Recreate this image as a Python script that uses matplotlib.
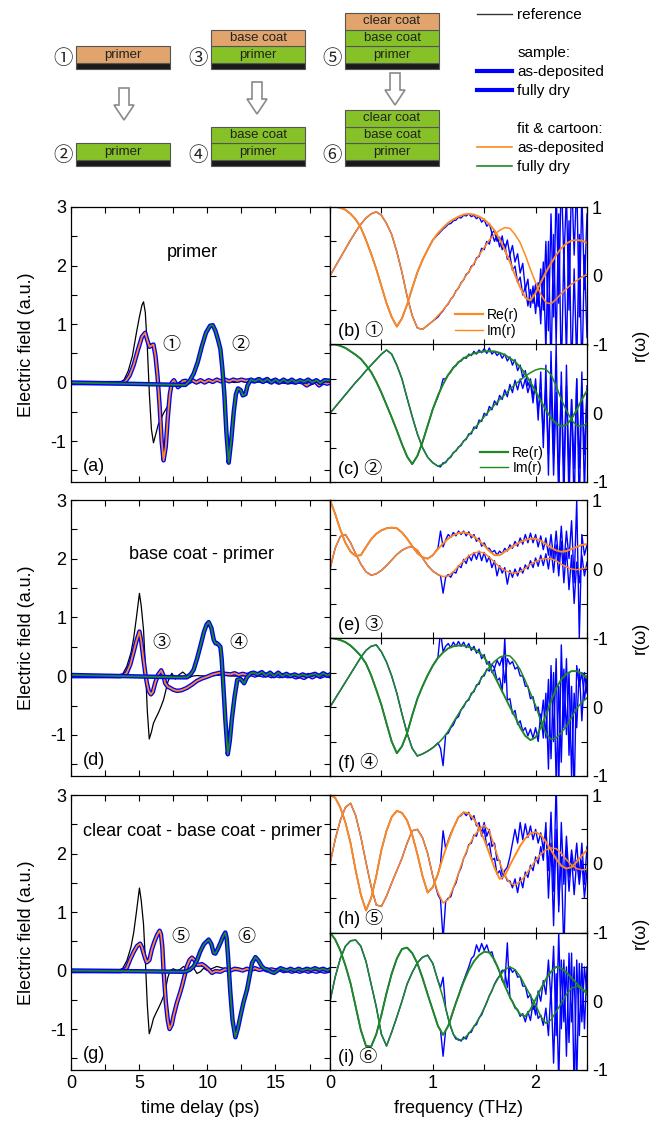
import numpy as np
import matplotlib
matplotlib.use("Agg")
import matplotlib.pyplot as plt
from matplotlib.lines import Line2D
from matplotlib.patches import Rectangle, Polygon
from matplotlib.ticker import MultipleLocator

plt.rcParams["font.family"] = ["Liberation Sans", "Noto Sans CJK JP", "DejaVu Sans"]
plt.rcParams["axes.unicode_minus"] = False
plt.rcParams["axes.linewidth"] = 0.9

W, H = 657, 1121
BLUE = "#0000ff"
ORANGE = "#ff8a1c"
GREEN = "#1f8a1f"
LAYER_ORANGE = "#e0a46c"
LAYER_GREEN = "#86c227"

# ---- cartoon ----
STACK_NAMES = [["primer"], ["base coat", "primer"], ["clear coat", "base coat", "primer"]]
STACK_WET = [[LAYER_ORANGE], [LAYER_ORANGE, LAYER_GREEN], [LAYER_ORANGE, LAYER_GREEN, LAYER_GREEN]]
CIRCLED = ["①", "②", "③", "④", "⑤", "⑥"]

# ---- time domain (ps, a.u.) ----
T_REF_A = [0, 3.6, 3.9, 4.2, 4.5, 4.8, 5.0, 5.2, 5.32, 5.45, 5.6, 5.75, 5.9, 6.05, 6.2,
           6.4, 6.6, 6.8, 7.0, 7.15, 7.3, 7.45, 7.6, 7.8, 8.0, 8.4, 8.8, 9.2, 9.6, 10.0,
           10.5, 11.0, 11.5, 12.0, 12.5, 13.0, 14.0, 15.0, 16.0, 17.0, 17.5, 18.0, 19.0]
E_REF_A = [0, 0, 0.05, 0.2, 0.45, 0.85, 1.1, 1.32, 1.38, 1.2, 0.6, -0.2, -0.8, -1.03, -0.9,
           -0.72, -0.62, -0.52, -0.44, -0.38, -0.2, 0.0, 0.04, -0.03, 0.02, 0.0, 0.02, -0.02, 0.01, 0.0,
           0.03, 0.05, 0.02, 0.0, 0.02, 0.0, 0.01, 0.0, -0.02, 0.0, -0.05, 0.0, 0.0]
T_WET_A = [0, 3.7, 4.0, 4.3, 4.6, 4.9, 5.2, 5.44, 5.6, 5.76, 5.9, 6.05, 6.2, 6.35, 6.5,
           6.65, 6.79, 6.95, 7.1, 7.25, 7.4, 7.55, 7.7, 7.85, 8.0, 8.2, 8.4, 8.6, 8.9, 9.2,
           9.5, 9.8, 10.1, 10.4, 10.7, 11.0, 11.3, 11.6, 11.9, 12.2, 12.5, 12.8, 13.1, 13.4, 13.7,
           14.0, 14.3, 14.6, 14.9, 15.2, 15.5, 15.8, 16.1, 16.4, 16.7, 17.0, 17.3, 17.6, 17.9, 18.2,
           18.5, 18.8, 19.0]
E_WET_A = [-0.01, -0.01, 0.02, 0.12, 0.3, 0.55, 0.78, 0.85, 0.72, 0.61, 0.63, 0.65, 0.45, 0.1, -0.4,
           -1.0, -1.33, -1.1, -0.6, -0.2, 0.0, 0.04, -0.02, -0.08, -0.05, 0.02, 0.03, 0.0, 0.04, 0.0,
           0.04, 0.0, 0.04, 0.01, 0.05, 0.02, 0.05, 0.02, 0.05, 0.03, 0.05, 0.03, 0.04, 0.02, 0.05,
           0.02, 0.05, 0.01, 0.04, 0.0, 0.03, 0.01, 0.03, 0.0, 0.02, 0.0, -0.05, 0.0, 0.02, -0.05,
           0.0, -0.02, 0.0]
T_DRY_A = [0, 4.0, 8.0, 8.4, 8.7, 9.0, 9.3, 9.6, 9.9, 10.2, 10.4, 10.6, 10.8, 10.96, 11.1,
           11.25, 11.4, 11.57, 11.75, 11.94, 12.1, 12.25, 12.45, 12.6, 12.8, 12.95, 13.2, 13.5, 13.8, 14.1,
           14.4, 14.7, 15.0, 15.3, 15.6, 15.9, 16.2, 16.5, 16.8, 17.1, 17.4, 17.7, 18.0, 18.3, 18.6, 19.0]
E_DRY_A = [0.0, -0.02, -0.04, -0.04, 0.03, 0.15, 0.35, 0.62, 0.85, 0.97, 0.98, 0.88, 0.72, 0.57, 0.25,
           -0.2, -0.85, -1.37, -1.0, -0.5, -0.2, -0.1, -0.13, -0.22, -0.2, -0.05, 0.05, 0.02, 0.06, 0.01,
           0.06, 0.0, 0.05, 0.0, 0.05, 0.0, 0.05, 0.0, 0.04, 0.01, 0.05, 0.0, 0.04, -0.01, 0.04, 0.03]

T_REF_D = [0, 3.5, 3.8, 4.1, 4.4, 4.6, 4.8, 5.02, 5.15, 5.32, 5.45, 5.6, 5.74, 5.9, 6.05,
           6.25, 6.42, 6.6, 6.79, 6.95, 7.1, 7.28, 7.4, 7.65, 7.9, 8.2, 8.45, 8.63, 8.9, 9.2,
           10.0, 11.0, 12.0, 13.0, 14.0, 15.0, 16.0, 17.0, 18.0, 19.0]
E_REF_D = [0, 0, 0.04, 0.17, 0.4, 0.65, 1.0, 1.41, 1.2, 0.79, 0.2, -0.6, -1.07, -0.95, -0.8,
           -0.7, -0.62, -0.52, -0.4, -0.25, -0.1, 0.0, 0.05, -0.05, 0.02, 0.07, 0.02, -0.03, 0.0, 0.01,
           0.0, 0.02, 0.0, 0.01, 0.0, 0.01, 0.0, 0.0, 0.0, 0.0]
T_WET_D = [0, 3.6, 3.9, 4.1, 4.35, 4.58, 4.8, 5.02, 5.15, 5.32, 5.45, 5.56, 5.7, 5.86, 6.0,
           6.18, 6.4, 6.62, 6.8, 6.91, 7.1, 7.28, 7.5, 7.77, 8.1, 8.5, 8.9, 9.24, 9.6, 9.98,
           10.4, 10.96, 11.3, 11.7, 12.0, 12.3, 12.6, 12.9, 13.2, 13.5, 13.8, 14.1, 14.4, 14.7, 15.0,
           15.3, 15.6, 15.9, 16.2, 16.5, 16.8, 17.1, 17.4, 17.7, 18.0, 18.3, 18.6, 19.0]
E_WET_D = [0.0, 0.0, 0.02, 0.06, 0.2, 0.4, 0.6, 0.76, 0.6, 0.28, 0.05, -0.11, -0.25, -0.31, -0.27,
           -0.11, 0.03, 0.1, 0.0, -0.12, -0.18, -0.2, -0.23, -0.25, -0.24, -0.2, -0.14, -0.08, -0.04, -0.01,
           0.03, 0.06, 0.04, 0.03, 0.05, 0.02, 0.04, 0.02, 0.04, 0.01, 0.04, 0.01, 0.03, 0.0, 0.02,
           0.0, 0.02, 0.0, 0.01, -0.02, 0.0, -0.03, 0.02, -0.02, 0.02, -0.01, 0.02, 0.0]
T_DRY_D = [0, 4.0, 8.0, 8.5, 8.8, 9.0, 9.25, 9.49, 9.75, 9.95, 10.1, 10.3, 10.47, 10.6, 10.71,
           10.85, 10.96, 11.05, 11.15, 11.32, 11.5, 11.65, 11.8, 12.0, 12.2, 12.45, 12.7, 12.9, 13.2, 13.4,
           13.7, 14.0, 14.3, 14.6, 14.9, 15.2, 15.5, 15.8, 16.1, 16.4, 16.7, 17.0, 17.3, 17.6, 17.9,
           18.2, 18.5, 18.8, 19.0]
E_DRY_D = [0.02, 0.0, -0.02, -0.02, 0.04, 0.11, 0.3, 0.51, 0.75, 0.88, 0.92, 0.82, 0.62, 0.56, 0.56,
           0.53, 0.5, 0.3, -0.06, -0.73, -1.33, -1.1, -0.73, -0.35, -0.06, -0.05, -0.12, -0.02, 0.05, 0.06,
           0.03, 0.07, 0.01, 0.06, 0.0, 0.06, 0.0, 0.04, 0.0, 0.03, 0.0, 0.03, 0.0, 0.02, 0.04,
           0.0, 0.05, 0.01, 0.03]

T_REF_G = [0, 3.5, 3.8, 4.1, 4.4, 4.6, 4.8, 5.02, 5.15, 5.32, 5.45, 5.6, 5.74, 5.9, 6.05,
           6.25, 6.42, 6.6, 6.79, 6.95, 7.1, 7.28, 7.5, 7.8, 8.0, 8.26, 8.5, 8.75, 9.0, 9.24,
           9.5, 9.73, 10.0, 10.3, 10.7, 11.0, 11.5, 12.0, 13.0, 14.0, 15.0, 16.0, 17.0, 18.0, 19.0]
E_REF_G = [0, 0, 0.04, 0.17, 0.4, 0.65, 1.0, 1.41, 1.2, 0.79, 0.2, -0.6, -1.08, -0.96, -0.82,
           -0.72, -0.64, -0.55, -0.44, -0.3, -0.12, 0.0, 0.03, 0.0, 0.02, 0.07, 0.03, 0.0, 0.04, -0.05,
           -0.02, 0.04, 0.0, 0.03, 0.07, 0.05, 0.02, 0.0, 0.01, 0.0, 0.02, 0.0, 0.01, 0.0, 0.0]
T_WET_G = [0, 3.6, 3.9, 4.1, 4.34, 4.6, 4.85, 5.07, 5.2, 5.32, 5.45, 5.56, 5.75, 5.93, 6.1,
           6.3, 6.5, 6.6, 6.7, 6.79, 6.88, 6.96, 7.1, 7.23, 7.4, 7.52, 7.65, 7.77, 7.95, 8.14,
           8.3, 8.5, 8.7, 8.87, 9.05, 9.24, 9.45, 9.6, 9.8, 10.1, 10.34, 10.6, 10.96, 11.3, 11.7,
           12.0, 12.3, 12.6, 12.9, 13.2, 13.5, 13.8, 14.1, 14.4, 14.7, 15.0, 15.3, 15.6, 15.9, 16.2,
           16.5, 16.8, 17.1, 17.4, 17.7, 18.0, 18.3, 18.6, 19.0]
E_WET_G = [-0.01, -0.01, 0.0, 0.05, 0.19, 0.32, 0.42, 0.46, 0.4, 0.3, 0.2, 0.14, 0.18, 0.36, 0.48,
           0.6, 0.68, 0.62, 0.4, 0.0, -0.3, -0.55, -0.85, -1.0, -0.92, -0.78, -0.66, -0.55, -0.42, -0.27,
           -0.12, 0.07, 0.18, 0.22, 0.18, 0.1, 0.1, 0.11, 0.08, 0.02, -0.04, -0.01, -0.02, 0.02, 0.0,
           0.03, 0.02, 0.0, 0.03, 0.01, 0.04, 0.01, 0.03, 0.0, 0.02, 0.0, 0.02, -0.01, 0.01, -0.02,
           0.0, -0.02, 0.01, -0.02, 0.0, -0.02, 0.0, -0.02, 0.0]
T_DRY_G = [0, 4.0, 8.0, 8.38, 8.7, 9.0, 9.25, 9.49, 9.75, 10.1, 10.3, 10.47, 10.59, 10.75, 10.96,
           11.15, 11.32, 11.42, 11.52, 11.6, 11.69, 11.85, 12.06, 12.25, 12.43, 12.65, 12.92, 13.1, 13.28, 13.53,
           13.75, 14.0, 14.2, 14.4, 14.65, 14.9, 15.15, 15.37, 15.6, 15.86, 16.1, 16.4, 16.7, 17.0, 17.3,
           17.6, 17.9, 18.2, 18.5, 18.8, 19.0]
E_DRY_G = [0.0, -0.01, -0.02, -0.02, 0.01, 0.07, 0.18, 0.33, 0.45, 0.53, 0.45, 0.3, 0.29, 0.36, 0.47,
           0.58, 0.65, 0.55, 0.24, -0.05, -0.38, -0.85, -1.14, -0.98, -0.78, -0.55, -0.32, -0.1, 0.13, 0.23,
           0.17, 0.07, 0.03, 0.02, -0.02, -0.04, 0.0, 0.04, 0.02, 0.0, 0.03, 0.0, 0.03, 0.0, 0.03,
           0.01, 0.04, 0.01, 0.03, 0.0, 0.02]

# ---- frequency domain: fits on 0.05 THz grid, measured (noisy part) on 0.025 THz grid ----
F_FIT = np.round(np.arange(0, 2.5001, 0.05), 3)
F_MEAS = np.round(np.arange(1.05, 2.5001, 0.025), 3)

B_RE = [1.0, 1.0, 0.99, 0.96, 0.9, 0.82, 0.7, 0.52, 0.32, 0.1,
        -0.15, -0.4, -0.6, -0.74, -0.62, -0.42, -0.18, 0.05, 0.23, 0.38,
        0.52, 0.62, 0.7, 0.77, 0.82, 0.86, 0.89, 0.9, 0.89, 0.86,
        0.82, 0.75, 0.66, 0.53, 0.38, 0.2, 0.01, -0.17, -0.32, -0.36,
        -0.25, -0.1, 0.05, 0.18, 0.3, 0.4, 0.47, 0.51, 0.52, 0.51, 0.48]
B_IM = [0.0, 0.13, 0.26, 0.39, 0.52, 0.64, 0.75, 0.84, 0.9, 0.93,
        0.88, 0.76, 0.6, 0.35, 0.05, -0.3, -0.58, -0.76, -0.78, -0.72,
        -0.66, -0.58, -0.5, -0.4, -0.29, -0.17, -0.05, 0.06, 0.18, 0.3,
        0.41, 0.52, 0.6, 0.66, 0.7, 0.69, 0.6, 0.48, 0.3, 0.09,
        -0.1, -0.27, -0.39, -0.41, -0.34, -0.26, -0.19, -0.12, -0.07, -0.02, 0.02]
C_RE = [1.0, 1.0, 0.98, 0.95, 0.9, 0.85, 0.79, 0.7, 0.6, 0.46,
        0.3, 0.12, -0.06, -0.25, -0.45, -0.63, -0.74, -0.62, -0.42, -0.18,
        0.06, 0.26, 0.42, 0.56, 0.66, 0.74, 0.8, 0.84, 0.87, 0.89,
        0.9, 0.9, 0.9, 0.88, 0.85, 0.8, 0.75, 0.67, 0.57, 0.45,
        0.32, 0.18, 0.05, -0.07, -0.15, -0.19, -0.17, -0.08, 0.05, 0.2, 0.33]
C_IM = [0.0, 0.09, 0.18, 0.27, 0.36, 0.45, 0.53, 0.62, 0.7, 0.78,
        0.86, 0.92, 0.86, 0.7, 0.5, 0.22, -0.05, -0.3, -0.5, -0.64,
        -0.72, -0.77, -0.74, -0.67, -0.58, -0.5, -0.41, -0.32, -0.23, -0.14,
        -0.05, 0.04, 0.12, 0.2, 0.27, 0.35, 0.42, 0.48, 0.54, 0.59,
        0.63, 0.65, 0.64, 0.56, 0.4, 0.2, 0.04, -0.1, -0.18, -0.19, -0.15]
E_RE = [1.0, 0.8, 0.57, 0.38, 0.25, 0.19, 0.2, 0.32, 0.43, 0.51,
        0.56, 0.59, 0.6, 0.59, 0.53, 0.44, 0.33, 0.23, 0.17, 0.15,
        0.2, 0.29, 0.37, 0.44, 0.49, 0.52, 0.53, 0.51, 0.47, 0.41,
        0.34, 0.26, 0.2, 0.2, 0.25, 0.3, 0.35, 0.39, 0.42, 0.44,
        0.44, 0.41, 0.36, 0.31, 0.27, 0.25, 0.26, 0.29, 0.32, 0.35, 0.36]
E_IM = [0.0, 0.3, 0.47, 0.5, 0.38, 0.22, 0.07, -0.04, -0.09, -0.07,
        -0.02, 0.05, 0.13, 0.21, 0.27, 0.31, 0.32, 0.27, 0.16, 0.05,
        -0.03, -0.08, -0.11, -0.1, -0.04, 0.04, 0.12, 0.19, 0.23, 0.25,
        0.23, 0.17, 0.1, 0.03, -0.02, -0.05, -0.06, -0.04, 0.01, 0.07,
        0.11, 0.14, 0.15, 0.15, 0.12, 0.07, 0.03, 0.0, -0.01, 0.0, 0.02]
F_RE = [1.0, 0.99, 0.97, 0.94, 0.89, 0.82, 0.74, 0.63, 0.46, 0.25,
        0.03, -0.24, -0.5, -0.67, -0.57, -0.38, -0.12, 0.12, 0.3, 0.46,
        0.6, 0.71, 0.79, 0.85, 0.88, 0.89, 0.89, 0.87, 0.84, 0.79,
        0.72, 0.6, 0.45, 0.3, 0.15, 0.0, -0.14, -0.3, -0.42, -0.48,
        -0.44, -0.3, -0.12, 0.08, 0.27, 0.4, 0.48, 0.52, 0.52, 0.48, 0.42]
F_IM = [0.0, 0.12, 0.24, 0.36, 0.48, 0.6, 0.72, 0.82, 0.88, 0.9,
        0.8, 0.65, 0.45, 0.2, -0.1, -0.38, -0.6, -0.71, -0.68, -0.64,
        -0.59, -0.53, -0.45, -0.35, -0.22, -0.1, 0.02, 0.12, 0.24, 0.36,
        0.48, 0.58, 0.66, 0.72, 0.75, 0.74, 0.66, 0.54, 0.38, 0.2,
        0.02, -0.2, -0.38, -0.47, -0.45, -0.37, -0.28, -0.15, -0.02, 0.07, 0.13]
H_RE = [1.0, 0.96, 0.82, 0.6, 0.3, -0.1, -0.45, -0.68, -0.5, -0.18,
        0.2, 0.48, 0.68, 0.77, 0.74, 0.63, 0.42, 0.14, -0.18, -0.42,
        -0.34, -0.15, 0.1, 0.32, 0.52, 0.68, 0.75, 0.73, 0.65, 0.52,
        0.35, 0.15, -0.06, -0.22, -0.18, -0.02, 0.12, 0.26, 0.37, 0.44,
        0.46, 0.42, 0.32, 0.2, 0.07, -0.03, -0.07, -0.05, 0.03, 0.12, 0.2]
H_IM = [0.0, 0.35, 0.63, 0.82, 0.88, 0.7, 0.39, 0.02, -0.33, -0.6,
        -0.62, -0.47, -0.28, -0.1, 0.08, 0.3, 0.48, 0.5, 0.38, 0.15,
        -0.18, -0.42, -0.57, -0.52, -0.35, -0.14, 0.08, 0.26, 0.4, 0.5,
        0.56, 0.48, 0.25, 0.02, -0.17, -0.28, -0.31, -0.26, -0.17, -0.06,
        0.05, 0.14, 0.2, 0.23, 0.22, 0.15, 0.06, -0.02, -0.07, -0.09, -0.08]
I_RE = [1.0, 0.9, 0.74, 0.52, 0.26, -0.08, -0.42, -0.65, -0.66, -0.48,
        -0.2, 0.12, 0.4, 0.62, 0.76, 0.78, 0.7, 0.55, 0.34, 0.1,
        -0.13, -0.36, -0.49, -0.36, -0.13, 0.08, 0.28, 0.45, 0.58, 0.67,
        0.72, 0.71, 0.6, 0.43, 0.23, 0.06, -0.08, -0.19, -0.22, -0.12,
        0.03, 0.18, 0.32, 0.43, 0.5, 0.48, 0.42, 0.34, 0.26, 0.18, 0.11]
I_IM = [0.0, 0.35, 0.62, 0.8, 0.88, 0.89, 0.8, 0.58, 0.25, -0.08,
        -0.48, -0.65, -0.45, -0.23, 0.0, 0.25, 0.42, 0.56, 0.64, 0.67,
        0.55, 0.3, 0.05, -0.25, -0.48, -0.57, -0.55, -0.47, -0.37, -0.25,
        -0.1, 0.08, 0.24, 0.37, 0.46, 0.5, 0.46, 0.36, 0.22, 0.08,
        -0.05, -0.22, -0.32, -0.27, -0.15, -0.03, 0.1, 0.19, 0.22, 0.18, 0.14]

B_RE_MEAS = [0.6, 0.64, 0.68, 0.71, 0.75, 0.76, 0.8, 0.81, 0.85, 0.84,
             0.88, 0.87, 0.9, 0.86, 0.88, 0.83, 0.86, 0.78, 0.82, 0.72,
             0.76, 0.62, 0.66, 0.5, 0.56, 0.38, 0.46, 0.24, 0.3, 0.08,
             0.14, -0.1, -0.02, -0.28, -0.16, -0.44, -0.2, -0.4, -0.12, -0.45,
             0.1, -0.5, 0.5, -0.8, 0.9, -0.6, 1.3, -0.4, 1.5, 0.2,
             1.2, -0.5, 1.5, 0.3, 1.4, -0.6, 1.2, -0.2, 0.9]
B_IM_MEAS = [-0.6, -0.55, -0.51, -0.45, -0.41, -0.34, -0.3, -0.22, -0.18, -0.1,
             -0.06, 0.02, 0.05, 0.14, 0.16, 0.26, 0.28, 0.4, 0.38, 0.5,
             0.46, 0.62, 0.5, 0.6, 0.42, 0.58, 0.36, 0.52, 0.3, 0.44,
             0.2, 0.32, 0.04, 0.18, -0.2, -0.05, -0.46, -0.15, -0.55, -0.1,
             -0.7, 0.2, -1.1, 0.5, -1.4, 0.6, -1.0, 0.9, -1.5, 0.4,
             -1.2, 0.8, -1.5, 0.1, -1.3, 0.6, -1.5, 0.3, -0.9]
C_RE_MEAS = [0.24, 0.35, 0.5, 0.5, 0.56, 0.6, 0.67, 0.69, 0.75, 0.76,
             0.81, 0.8, 0.86, 0.84, 0.9, 0.86, 0.92, 0.88, 0.94, 0.87,
             0.95, 0.86, 0.9, 0.84, 0.88, 0.8, 0.86, 0.76, 0.82, 0.7,
             0.78, 0.62, 0.7, 0.52, 0.62, 0.4, 0.5, 0.25, 0.4, 0.05,
             0.3, -0.3, 0.4, -0.6, 0.5, -0.9, 0.3, -1.2, 0.6, -0.9,
             0.4, -1.3, 0.2, -0.8, 0.5, -1.4, 0.4, -0.6, 0.35]
C_IM_MEAS = [-0.77, -0.78, -0.72, -0.72, -0.66, -0.64, -0.57, -0.55, -0.49, -0.47,
             -0.4, -0.38, -0.3, -0.3, -0.2, -0.22, -0.1, -0.12, 0.0, -0.03,
             0.1, 0.05, 0.18, 0.12, 0.26, 0.2, 0.34, 0.24, 0.42, 0.3,
             0.48, 0.34, 0.5, 0.36, 0.5, 0.3, 0.45, 0.15, 0.5, -0.1,
             0.6, -0.5, 0.7, -0.9, 0.9, -0.6, 1.0, -1.1, 0.4, -1.3,
             0.7, -0.9, 0.2, -1.4, 0.5, -0.8, 0.6, -1.2, 0.4]
E_RE_MEAS = [0.3, 0.55, 0.32, 0.42, 0.5, 0.46, 0.53, 0.48, 0.55, 0.5,
             0.55, 0.48, 0.54, 0.45, 0.5, 0.4, 0.45, 0.33, 0.38, 0.3,
             0.3, 0.24, 0.27, 0.2, 0.26, 0.22, 0.3, 0.26, 0.35, 0.3,
             0.4, 0.33, 0.45, 0.36, 0.5, 0.38, 0.52, 0.38, 0.5, 0.32,
             0.48, 0.28, 0.45, 0.2, 0.5, 0.15, 0.55, 0.1, 0.62, 0.05,
             0.55, 0.15, 0.7, -0.2, 1.0, -1.0, 0.5, 0.2, 0.35]
E_IM_MEAS = [-0.08, -0.1, -0.35, -0.12, -0.08, -0.12, -0.04, -0.06, 0.05, 0.02,
             0.14, 0.08, 0.2, 0.12, 0.24, 0.14, 0.26, 0.12, 0.24, 0.1,
             0.18, 0.02, 0.12, -0.1, 0.05, -0.06, 0.02, -0.22, -0.02, -0.12,
             0.0, -0.1, 0.02, -0.06, 0.06, 0.0, 0.12, 0.02, 0.16, 0.04,
             0.2, 0.05, 0.22, 0.0, 0.3, -0.05, 0.35, -0.1, 0.4, -0.2,
             0.3, -0.3, 0.2, -0.5, 0.1, -0.2, 0.2, -0.1, 0.1]
F_RE_MEAS = [0.72, 1.1, 0.8, 0.88, 0.92, 0.86, 0.94, 0.88, 0.95, 0.88,
             0.94, 0.86, 0.92, 0.82, 0.88, 0.78, 0.84, 0.7, 0.76, 0.62,
             0.66, 0.5, 0.55, 0.38, 0.42, 0.22, 1.0, 0.1, 0.12, -0.1,
             -0.05, -0.25, -0.2, -0.35, -0.3, -0.42, -0.32, -0.45, -0.3, -0.5,
             -0.1, -0.45, 0.2, -0.9, 0.6, -0.5, 0.7, -1.2, 0.9, -0.3,
             0.7, -0.7, 0.3, -1.3, 0.6, 0.3, 0.5, 0.1, 0.45]
F_IM_MEAS = [-0.52, -0.6, -0.85, -0.4, -0.38, -0.3, -0.26, -0.17, -0.14, -0.04,
             0.0, 0.08, 0.1, 0.2, 0.22, 0.32, 0.33, 0.44, 0.45, 0.55,
             0.52, 0.62, 0.56, 0.68, 0.6, 0.72, 0.35, 0.7, 0.62, 0.66,
             0.55, 0.58, 0.45, 0.45, 0.3, 0.3, 0.12, 0.15, -0.05, 0.0,
             -0.25, 0.1, -0.45, 0.4, -0.75, 0.5, -1.1, 0.3, -0.8, 0.55,
             -0.4, 0.5, -1.0, 0.2, -0.3, 0.55, -0.2, 0.5, 0.2]
H_RE_MEAS = [-0.15, 0.0, 0.48, 0.22, 0.34, 0.44, 0.52, 0.6, 0.68, 0.7,
             0.75, 0.7, 0.75, 0.64, 0.7, 0.55, 0.6, 0.4, 0.5, 0.25,
             0.3, 0.05, 0.08, -0.15, -0.1, -0.22, -0.1, -0.05, 0.1, 0.3,
             0.5, 0.3, 0.6, 0.35, 0.58, 0.38, 0.55, 0.35, 0.5, 0.3,
             0.45, 0.2, 0.5, -0.1, 0.75, -0.4, 1.2, -0.7, 0.6, -0.3,
             0.4, -0.2, 0.2, -0.1, 0.3, -0.2, 0.3, -0.3, 0.25]
H_IM_MEAS = [-0.45, -0.52, -1.1, -0.55, -0.5, -0.48, -0.35, -0.28, -0.14, -0.06,
             0.08, 0.15, 0.28, 0.3, 0.42, 0.4, 0.55, 0.45, 0.6, 0.4,
             0.5, 0.25, 0.3, 0.05, 0.05, -0.15, -0.15, -0.25, -0.25, -0.35,
             -0.22, -0.42, -0.2, -0.35, -0.12, -0.2, -0.02, -0.1, 0.1, 0.0,
             0.25, 0.05, 0.6, -0.5, 0.3, -0.9, 0.5, -0.6, 0.1, -1.3,
             0.2, -0.4, 0.1, -0.45, 0.05, -0.3, 0.05, -0.5, -0.1]
I_RE_MEAS = [-0.36, -0.42, -0.8, -0.42, -0.36, -0.26, -0.14, -0.02, 0.08, 0.2,
             0.3, 0.4, 0.5, 0.62, 0.66, 0.82, 0.72, 0.84, 0.74, 0.82,
             0.7, 0.72, 0.58, 0.52, 0.42, 0.3, 0.24, 0.85, 0.05, 0.0,
             -0.1, -0.12, -0.22, -0.18, -0.3, -0.15, -0.28, -0.02, -0.2, 0.15,
             0.0, 0.3, 0.1, 0.6, 0.0, 0.8, -0.5, 1.0, -0.4, 0.6,
             -0.8, 0.7, -0.3, 0.5, -1.2, 0.55, -0.3, 0.5, 0.1]
I_IM_MEAS = [0.3, 0.2, 0.35, -0.1, -0.25, -0.38, -0.48, -0.55, -0.55, -0.58,
             -0.52, -0.55, -0.46, -0.45, -0.36, -0.34, -0.24, -0.2, -0.1, -0.02,
             0.08, 0.15, 0.25, 0.32, 0.37, 0.45, 0.45, 0.2, 0.5, 0.42,
             0.46, 0.35, 0.36, 0.22, 0.22, 0.05, 0.1, -0.12, -0.05, -0.25,
             -0.2, -0.35, -0.1, -0.5, 0.2, -0.9, 0.4, -1.2, 0.6, -0.3,
             0.5, -0.6, 0.7, -1.3, 0.6, -0.5, 0.55, -0.4, 0.5]


def add_ax(fig, left, top, right, bottom):
    return fig.add_axes([left / W, 1 - bottom / H, (right - left) / W, (bottom - top) / H])


def style_time(ax, last):
    ax.set_xlim(0, 19)
    ax.set_ylim(-1.7, 3)
    ax.xaxis.set_major_locator(MultipleLocator(5))
    ax.xaxis.set_minor_locator(MultipleLocator(2.5))
    ax.yaxis.set_major_locator(MultipleLocator(1))
    ax.yaxis.set_minor_locator(MultipleLocator(0.5))
    ax.tick_params(which="both", direction="in", top=True, right=True, labelsize=13, width=0.8, length=4)
    ax.tick_params(labelbottom=last)
    ax.set_ylabel("Electric field (a.u.)", fontsize=13)
    ax.yaxis.set_label_coords(-0.14, 0.5)


def style_freq(ax, last, labels):
    ax.set_xlim(0, 2.5)
    ax.set_ylim(-1, 1)
    ax.xaxis.set_major_locator(MultipleLocator(1))
    ax.xaxis.set_minor_locator(MultipleLocator(0.5))
    ax.set_yticks([-1, 0, 1])
    ax.set_yticklabels(labels)
    ax.set_yticks([-0.5, 0.5], minor=True)
    ax.tick_params(which="both", direction="in", top=True, left=True, right=True,
                   labelleft=False, labelright=True, labelsize=13, width=0.8, length=4)
    ax.tick_params(labelbottom=last)


fig = plt.figure(figsize=(W / 100, H / 100), dpi=100)

# cartoon
ax_c = fig.add_axes([0, 1 - 185 / H, 1, 185 / H])
ax_c.set_xlim(0, W)
ax_c.set_ylim(185, 0)
ax_c.axis("off")
STACK_X = [76, 211, 345]
STACK_W = 94
LAYER_H = 16.7
SUB_H = 6
for col, names in enumerate(STACK_NAMES):
    x0 = STACK_X[col]
    for row, base in enumerate([69, 166]):
        colors = STACK_WET[col] if row == 0 else [LAYER_GREEN] * len(names)
        ax_c.add_patch(Rectangle((x0, base - SUB_H), STACK_W, SUB_H, fc="#1c1a18", ec="#555555", lw=0.8))
        for k, (name, color) in enumerate(zip(reversed(names), reversed(colors))):
            top = base - SUB_H - (k + 1) * LAYER_H
            ax_c.add_patch(Rectangle((x0, top), STACK_W, LAYER_H, fc=color, ec="#555555", lw=0.8))
            ax_c.text(x0 + STACK_W / 2, top + LAYER_H / 2, name, ha="center", va="center",
                      fontsize=9.5, color="#222222")
        ax_c.text(x0 - 13, base - 10, CIRCLED[2 * col + row], ha="center", va="center",
                  fontsize=14, color="#222222")
ARROW_X = [124, 257, 395]
ARROW_TOP = [88, 82, 73]
for xc, yt in zip(ARROW_X, ARROW_TOP):
    pts = [(xc - 5, yt), (xc + 5, yt), (xc + 5, yt + 17), (xc + 10, yt + 17), (xc, yt + 32),
           (xc - 10, yt + 17), (xc - 5, yt + 17)]
    ax_c.add_patch(Polygon(pts, closed=True, fc="white", ec="#8a8a8a", lw=1.2))

blank = Line2D([], [], color="none")
legend_handles = [
    Line2D([], [], color="#333333", lw=1.0), blank,
    blank, Line2D([], [], color=BLUE, lw=3.0), Line2D([], [], color=BLUE, lw=3.0), blank,
    blank, Line2D([], [], color=ORANGE, lw=1.2), Line2D([], [], color=GREEN, lw=1.2),
]
legend_labels = ["reference", " ", "sample:", "as-deposited", "fully dry", " ",
                 "fit & cartoon:", "as-deposited", "fully dry"]
fig.legend(legend_handles, legend_labels, loc="upper left", bbox_to_anchor=(477 / W, 1 - 8 / H),
           frameon=False, fontsize=11, handlelength=2.3, handletextpad=0.35, labelspacing=0.33,
           borderpad=0, borderaxespad=0)

ROWS_PX = [(207, 482), (500, 776), (795, 1070)]
TIME_DATA = [
    (T_REF_A, E_REF_A, T_WET_A, E_WET_A, T_DRY_A, E_DRY_A),
    (T_REF_D, E_REF_D, T_WET_D, E_WET_D, T_DRY_D, E_DRY_D),
    (T_REF_G, E_REF_G, T_WET_G, E_WET_G, T_DRY_G, E_DRY_G),
]
TITLES = ["primer", "base coat - primer", "clear coat - base coat - primer"]
TITLE_POS = [(8.93, 2.23), (9.56, 2.08), (9.63, 2.37)]
LEFT_LETTERS = ["(a)", "(d)", "(g)"]
MARK_POS = [((7.4, 0.63), (12.4, 0.63)), ((6.62, 0.55), (12.3, 0.55)), ((8.0, 0.56), (12.84, 0.56))]
FREQ_DATA = [
    ((B_RE, B_IM, B_RE_MEAS, B_IM_MEAS), (C_RE, C_IM, C_RE_MEAS, C_IM_MEAS)),
    ((E_RE, E_IM, E_RE_MEAS, E_IM_MEAS), (F_RE, F_IM, F_RE_MEAS, F_IM_MEAS)),
    ((H_RE, H_IM, H_RE_MEAS, H_IM_MEAS), (I_RE, I_IM, I_RE_MEAS, I_IM_MEAS)),
]
RIGHT_LETTERS = [("(b)", "(c)"), ("(e)", "(f)"), ("(h)", "(i)")]
LOW = F_FIT < 1.04

for r, (top, bottom) in enumerate(ROWS_PX):
    last = r == 2
    ax = add_ax(fig, 71, top, 330, bottom)
    t_ref, e_ref, t_wet, e_wet, t_dry, e_dry = TIME_DATA[r]
    ax.plot(t_ref, e_ref, color="black", lw=0.9)
    ax.plot(t_wet, e_wet, color=BLUE, lw=3.2)
    ax.plot(t_wet, e_wet, color=ORANGE, lw=1.3)
    ax.plot(t_dry, e_dry, color=BLUE, lw=3.2)
    ax.plot(t_dry, e_dry, color=GREEN, lw=1.3)
    style_time(ax, last)
    ax.text(*TITLE_POS[r], TITLES[r], ha="center", va="center", fontsize=13)
    ax.text(0.045, 0.025, LEFT_LETTERS[r], transform=ax.transAxes, ha="left", va="bottom", fontsize=13)
    for k, pos in enumerate(MARK_POS[r]):
        ax.text(*pos, CIRCLED[2 * r + k], ha="center", va="center", fontsize=13)
    if last:
        ax.set_xlabel("time delay (ps)", fontsize=13, labelpad=6)

    mid = (top + bottom) / 2
    for k, (y0, y1) in enumerate([(top, mid), (mid, bottom)]):
        axr = add_ax(fig, 330, y0, 587, y1)
        re_fit, im_fit, re_meas, im_meas = FREQ_DATA[r][k]
        fx = np.concatenate([F_FIT[LOW], F_MEAS])
        axr.plot(fx, np.concatenate([np.array(re_fit)[LOW], re_meas]), color=BLUE, lw=1.0)
        axr.plot(fx, np.concatenate([np.array(im_fit)[LOW], im_meas]), color=BLUE, lw=1.0)
        fit_color = ORANGE if k == 0 else GREEN
        axr.plot(F_FIT, re_fit, color=fit_color, lw=1.4)
        axr.plot(F_FIT, im_fit, color=fit_color, lw=1.1)
        style_freq(axr, last and k == 1, ["-1", "0", "1"] if k == 0 else ["-1", "0", ""])
        axr.text(0.03, 0.03, RIGHT_LETTERS[r][k] + " " + CIRCLED[2 * r + k], transform=axr.transAxes,
                 ha="left", va="bottom", fontsize=13)
        if r == 0:
            handles = [Line2D([], [], color=fit_color, lw=1.6), Line2D([], [], color=fit_color, lw=1.0)]
            axr.legend(handles, ["Re(r)", "Im(r)"], loc="lower left",
                       bbox_to_anchor=(0.486 if k == 0 else 0.585, 0.05), frameon=False, fontsize=10,
                       handlelength=2.0, handletextpad=0.3, labelspacing=0.1, borderpad=0, borderaxespad=0)
        if last and k == 1:
            axr.set_xlabel("frequency (THz)", fontsize=13, labelpad=6)
    fig.text(640 / W, 1 - bottom / H + (bottom - top) / 2 / H, "r(ω)", rotation=90,
             ha="center", va="center", fontsize=13)

fig.savefig("out.png", dpi=100)
